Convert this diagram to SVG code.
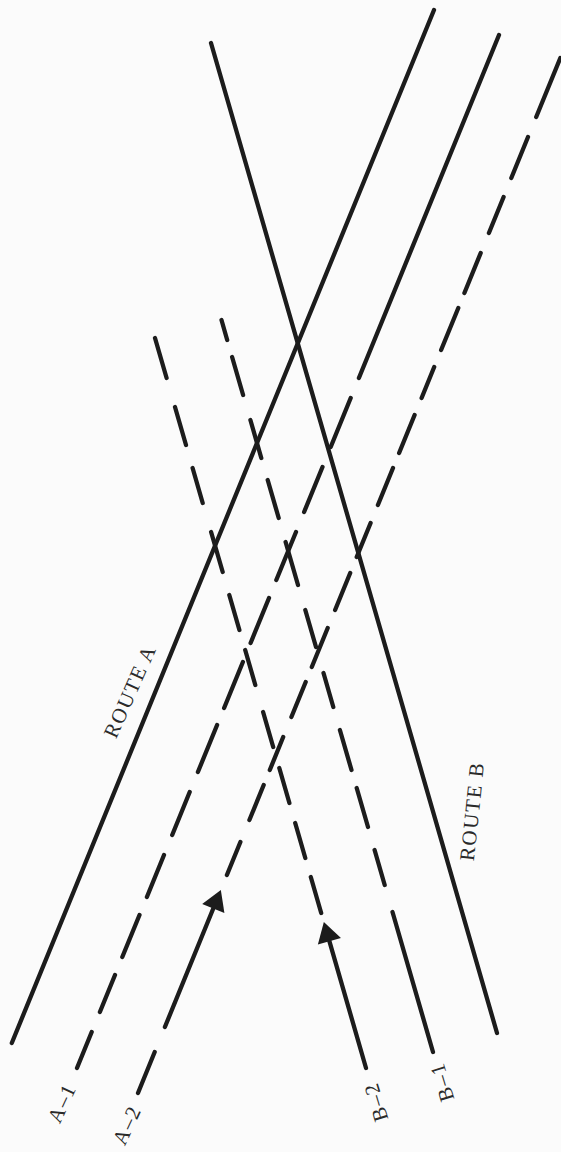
<svg xmlns="http://www.w3.org/2000/svg" width="561" height="1152" viewBox="0 0 561 1152">
<style>
.ln{fill:none;stroke:#1c1c1c;stroke-width:4.3;stroke-linecap:round}
.lbl{font-family:"Liberation Serif","Times New Roman",serif;font-size:21px;fill:#2a2a2a;letter-spacing:1.5px;text-anchor:middle}
</style>
<defs>
<marker id="arr" markerUnits="userSpaceOnUse" markerWidth="40" markerHeight="40" viewBox="-10 -20 40 40" refX="0" refY="0" orient="auto">
<path d="M16,0 L-4,-12 L-4,12 Z" fill="#1c1c1c"/>
</marker>
</defs>
<rect width="561" height="1152" fill="#fbfbfb"/>
<g id="connectors">
<path id="route-a" class="ln" d="M11.8,1043 L434,10"/>
<path id="route-b" class="ln" d="M211,43 L497,1033"/>
<path id="a1" class="ln" d="M499,35 L358.9,378 M350.7,398 L330.7,447 M322.5,467 L304.1,512 M296,532 L276.3,580 M269,598 L250.6,643 M242.9,662 L224.1,708 M217.1,725 L197.9,772 M189.7,792 L172.2,835 M164,855 L146.9,897 M139.5,915 L122.3,957 M115,975 L99.9,1012 M91.7,1032 L77,1068"/>
<path id="a2" class="ln" d="M560.3,58 L536.2,117 M528,137 L511.3,178 M503.6,197 L488.9,233 M480.7,253 L464.4,293 M458.3,308 L441.1,350 M434.2,367 L421.6,398 M414.6,415 L399.1,453 M393,468 L377.9,505 M370.6,523 L356.7,557 M350.2,573 L335.1,610 M327.7,628 L311.8,667 M305.7,682 L291.4,717 M283.2,737 L269.8,770 M263.7,785 L249.4,820 M240.4,842 L226.9,875 M154.7,1052 L138,1093"/>
<path id="a2-arrow" class="ln" d="M164.9,1027 L214.8,904.8" marker-end="url(#arr)"/>
<path id="b1" class="ln" d="M221.5,320 L227.2,340 M232.1,357 L243.1,395 M250.4,420 L261.3,458 M267.7,480 L278.7,518 M285.6,542 L298,585 M305.3,610 L316,647 M323.5,673 L333.3,707 M339.9,730 L351.5,770 M356.7,788 L368,827 M374.6,850 L384.7,885 M392.5,912 L433,1052"/>
<path id="b2" class="ln" d="M155,338 L166.6,378 M175,407 L186,445 M192.6,468 L202.7,503 M211.1,532 L222.7,572 M229.3,595 L239.4,630 M245.2,650 L255.3,685 M263.1,712 L273.2,747 M279.3,768 L289.4,803 M295.2,823 L305.3,858 M310.8,877 L321.2,913"/>
<path id="b2-arrow" class="ln" d="M366,1068 L328.3,937.4" marker-end="url(#arr)"/>
</g>
<g id="label-route-a"><text class="lbl" transform="translate(136.4,694) rotate(-66)">ROUTE A</text></g>
<g id="label-route-b"><text class="lbl" transform="translate(479,812) rotate(-84)">ROUTE B</text></g>
<g id="label-a1"><text class="lbl" transform="translate(68.3,1106) rotate(-65)">A–1</text></g>
<g id="label-a2"><text class="lbl" transform="translate(133.3,1128) rotate(-65)">A–2</text></g>
<g id="label-b2"><text class="lbl" transform="translate(382.7,1100) rotate(-107)">B–2</text></g>
<g id="label-b1"><text class="lbl" transform="translate(448.7,1080) rotate(-107)">B–1</text></g>
</svg>
